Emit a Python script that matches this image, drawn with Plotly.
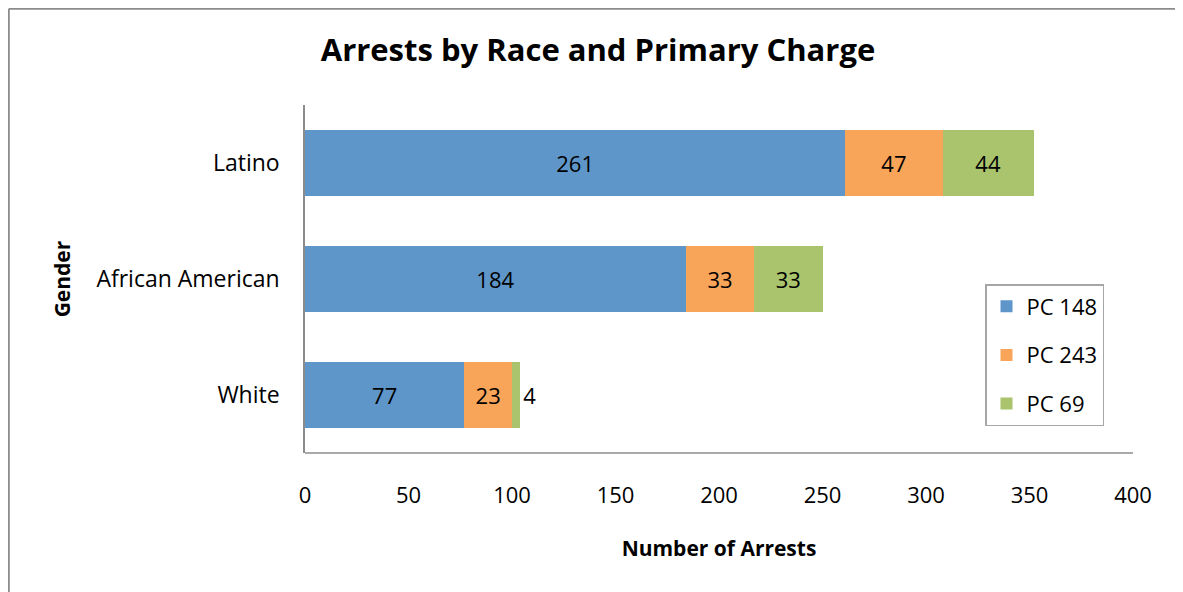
import plotly.graph_objects as go

races = ["Latino", "African American", "White"]
pc148 = [261, 184, 77]
pc243 = [47, 33, 23]
pc69 = [44, 33, 4]
series_names = ["PC 148", "PC 243", "PC 69"]
colors = ["#5F96C9", "#F8A55A", "#A9C46D"]
x_ticks = [0, 50, 100, 150, 200, 250, 300, 350, 400]

FONT = "Open Sans, Lato, sans-serif"
OFF = 8  # page body margin

W, H = 1175, 584
L, T = 305 - OFF, 105 - OFF
pw, ph = 828, 348
R = W - L - pw
B = H - T - ph

def px_x(p):  # reference-pixel x -> paper
    return (p - OFF - L) / pw

def px_y(p):  # reference-pixel y -> paper
    return (T + ph - (p - OFF)) / ph

fig = go.Figure()
for name, vals, col in zip(series_names, [pc148, pc243, pc69], colors):
    positions = ["inside" if v >= 10 else "outside" for v in vals]
    fig.add_trace(go.Bar(
        y=races, x=vals, name=name, orientation="h",
        marker=dict(color=col, line=dict(width=0)),
        text=[str(v) for v in vals], textposition=positions,
        insidetextanchor="middle",
        textfont=dict(family=FONT, size=22, color="black"),
        insidetextfont=dict(family=FONT, size=22, color="black"),
        outsidetextfont=dict(family=FONT, size=22, color="black"),
        constraintext="none", cliponaxis=False,
        legendgroup=name,
    ))

fig.update_layout(
    width=W, height=H,
    margin=dict(l=L, r=R, t=T, b=B),
    barmode="stack", bargap=0.43,
    plot_bgcolor="white", paper_bgcolor="white",
    font=dict(family=FONT, size=22, color="black"),
    title=dict(text="<b>Arrests by Race and Primary Charge</b>", x=px_x(598), xanchor="center",
               xref="paper", y=1 - (50 - OFF) / H, yanchor="middle", font=dict(size=31)),
    xaxis=dict(range=[0, 400], tickvals=x_ticks, showgrid=False, zeroline=False,
               showline=False, ticks="", tickfont=dict(size=22), ticklabelstandoff=27,
               title=dict(text="<b>Number of Arrests</b>", font=dict(size=21), standoff=33)),
    yaxis=dict(autorange="reversed", showgrid=False, showline=True, linecolor="#8c8c8c",
               linewidth=1.5, ticks="", tickfont=dict(size=23), ticklabelstandoff=19,
               title=dict(text="<b>Gender</b>", font=dict(size=21), standoff=20)),
    legend=dict(x=px_x(985), y=px_y(284), xanchor="left", yanchor="top",
                bordercolor="#a6a6a6", borderwidth=1.5, traceorder="grouped",
                tracegroupgap=17, font=dict(size=22), itemwidth=30),
    showlegend=True,
)

# x axis baseline
fig.add_shape(type="line", xref="paper", yref="paper", x0=0, x1=1, y0=0, y1=0,
              line=dict(color="#8c8c8c", width=1.5))
# chart outer frame (top and left), at the very edge of the figure
fig.add_shape(type="line", xref="paper", yref="paper", x0=px_x(8.8), x1=px_x(1200),
              y0=px_y(8.8), y1=px_y(8.8), line=dict(color="#8c8c8c", width=2))
fig.add_shape(type="line", xref="paper", yref="paper", x0=px_x(8.8), x1=px_x(8.8),
              y0=px_y(8.8), y1=px_y(620), line=dict(color="#8c8c8c", width=2))

fig.write_html("out.html")
